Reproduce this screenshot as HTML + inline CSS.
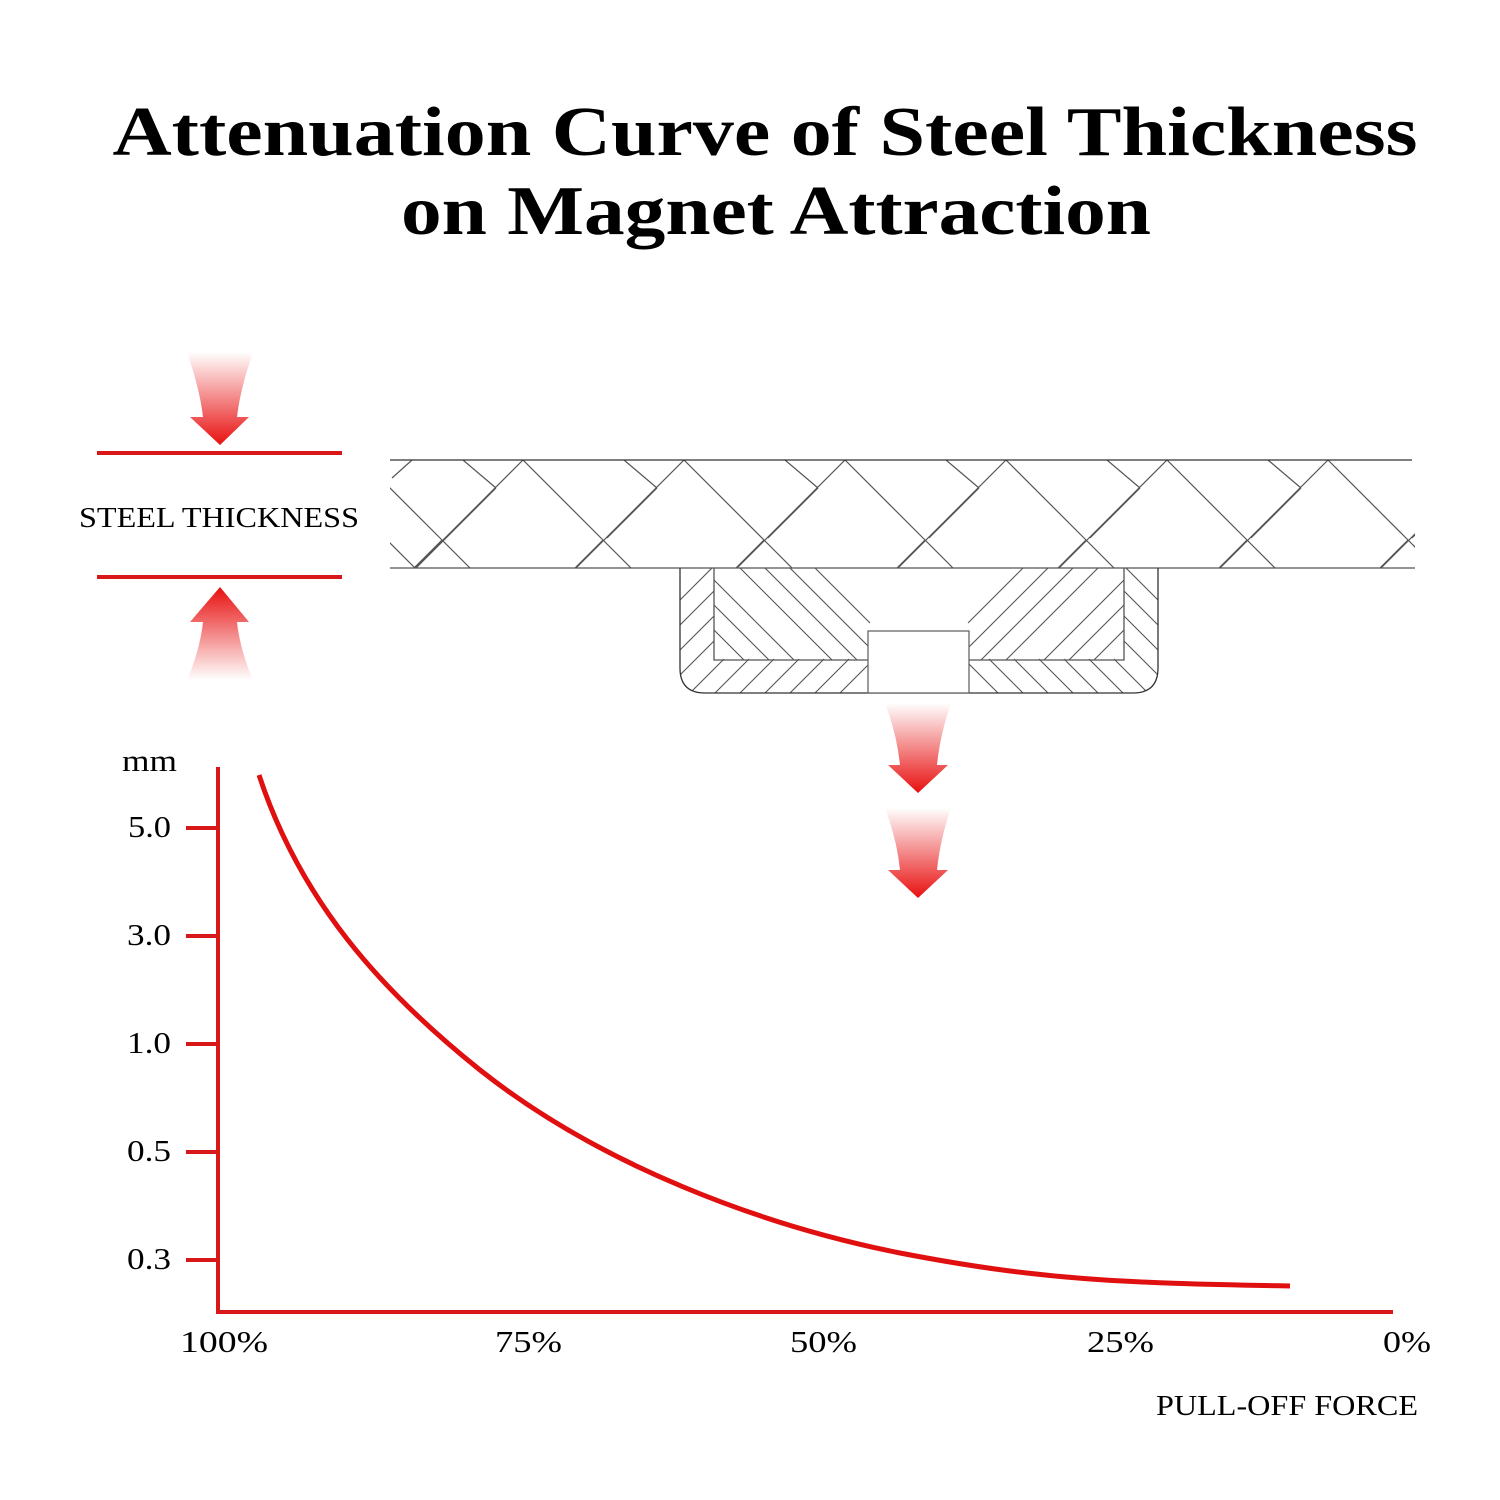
<!DOCTYPE html>
<html><head><meta charset="utf-8"><style>
html,body{margin:0;padding:0;background:#fff}
svg{display:block}
text{font-family:"Liberation Serif",serif}
</style></head><body>
<svg width="1500" height="1500" viewBox="0 0 1500 1500" xmlns="http://www.w3.org/2000/svg">
<defs>
<linearGradient id="gd" x1="0" y1="0" x2="0" y2="1"><stop offset="0" stop-color="#e81010" stop-opacity="0"/><stop offset="1" stop-color="#e81010"/></linearGradient>
<linearGradient id="gu" x1="0" y1="1" x2="0" y2="0"><stop offset="0" stop-color="#e81010" stop-opacity="0"/><stop offset="1" stop-color="#e81010"/></linearGradient>
<clipPath id="plate"><rect x="390" y="460" width="1025" height="108"/></clipPath>
<clipPath id="mag"><path d="M680 568 H1158 V668 Q1158 693 1133 693 H705 Q680 693 680 668 Z"/></clipPath>
</defs>
<text x="765" y="155" font-size="70" font-weight="bold" text-anchor="middle" textLength="1305" lengthAdjust="spacingAndGlyphs">Attenuation Curve of Steel Thickness</text>
<text x="776" y="234" font-size="70" font-weight="bold" text-anchor="middle" textLength="750" lengthAdjust="spacingAndGlyphs">on Magnet Attraction</text>

<path d="M187 352 H253 Q240 390 237 417 H249 L220 445 L190 417 H203 Q200 390 187 352 Z" fill="url(#gd)"/>
<path d="M187 680 H253 Q240 650 237 622 H249 L220 587 L190 622 H203 Q200 650 187 680 Z" fill="url(#gu)"/>
<line x1="97" y1="453" x2="342" y2="453" stroke="#d81818" stroke-width="4"/>
<line x1="97" y1="577" x2="342" y2="577" stroke="#d81818" stroke-width="4"/>
<text x="219" y="527" font-size="29" text-anchor="middle" textLength="280" lengthAdjust="spacingAndGlyphs">STEEL THICKNESS</text>

<g clip-path="url(#plate)" stroke="#555" stroke-width="1.2" fill="none">
<path d="
M362 460 l-108 108 M362 460 l80 80 M442 540 l-28 28 M442 540 l28 28 M335 488 l28 -28
M523 460 l-108 108 M523 460 l80 80 M603 540 l-28 28 M603 540 l28 28 M496 488 l-97 97 M496 488 l-33 -28 M415 568 l-30 -30
M684 460 l-108 108 M684 460 l80 80 M764 540 l-28 28 M764 540 l28 28 M657 488 l-50 50 M657 488 l-33 -28
M845 460 l-108 108 M845 460 l80 80 M925 540 l-28 28 M925 540 l28 28 M818 488 l-50 50 M818 488 l-33 -28
M1006 460 l-108 108 M1006 460 l80 80 M1086 540 l-28 28 M1086 540 l28 28 M979 488 l-50 50 M979 488 l-33 -28
M1167 460 l-108 108 M1167 460 l80 80 M1247 540 l-28 28 M1247 540 l28 28 M1140 488 l-50 50 M1140 488 l-33 -28
M1328 460 l-108 108 M1328 460 l80 80 M1408 540 l-28 28 M1408 540 l28 28 M1301 488 l-50 50 M1301 488 l-33 -28
M1489 460 l-108 108 M1462 488 l-50 50 M1462 488 l-33 -28
M415 568 l-25 -25 M392 478 l20 -18"/>
</g>
<line x1="390" y1="460" x2="1412" y2="460" stroke="#333" stroke-width="1.3"/>
<line x1="390" y1="568" x2="1415" y2="568" stroke="#555" stroke-width="1.3"/>

<g clip-path="url(#mag)" stroke="#555" stroke-width="1.1" fill="none">
<path d="M680 600 l34 -34 M680 625 l34 -34 M680 650 l34 -34 M680 675 l34 -34 M690 693 l34 -34 M715 693 l34 -34 M740 693 l34 -34 M765 693 l34 -34 M790 693 l34 -34 M815 693 l34 -34 M840 693 l30 -30
M714 580 l80 80 M714 605 l55 55 M714 630 l30 30 M740 568 l92 92 M765 568 l92 92 M790 568 l80 80 M815 568 l55 55"/>
<path d="M1158 600 l-34 -34 M1158 625 l-34 -34 M1158 650 l-34 -34 M1158 675 l-34 -34 M1148 693 l-34 -34 M1123 693 l-34 -34 M1098 693 l-34 -34 M1073 693 l-34 -34 M1048 693 l-34 -34 M1023 693 l-34 -34 M998 693 l-30 -30
M1124 580 l-80 80 M1124 605 l-55 55 M1124 630 l-30 30 M1098 568 l-92 92 M1073 568 l-92 92 M1048 568 l-80 80 M1023 568 l-55 55"/>
</g>
<path d="M680 568 V668 Q680 693 705 693 H1133 Q1158 693 1158 668 V568" fill="none" stroke="#333" stroke-width="1.3"/>
<path d="M714 568 V660 H868 M1124 568 V660 H969" fill="none" stroke="#555" stroke-width="1.3"/>
<rect x="868" y="631" width="101" height="62" fill="#fff" stroke="#666" stroke-width="1.3"/>

<path d="M885 703 H951 Q940 735 937 765 H948 L918 793 L888 765 H900 Q897 735 885 703 Z" fill="url(#gd)"/>
<path d="M885 808 H951 Q940 840 937 870 H948 L918 898 L888 870 H900 Q897 840 885 808 Z" fill="url(#gd)"/>

<g stroke="#d81818" stroke-width="4">
<line x1="218" y1="767" x2="218" y2="1314"/>
<line x1="216" y1="1312" x2="1393" y2="1312"/>
<line x1="186" y1="828" x2="218" y2="828"/>
<line x1="186" y1="936" x2="218" y2="936"/>
<line x1="186" y1="1044" x2="218" y2="1044"/>
<line x1="186" y1="1152" x2="218" y2="1152"/>
<line x1="186" y1="1260" x2="218" y2="1260"/>
</g>
<path d="M259 775 C300 900 380 990 480 1070 C600 1165 760 1225 900 1253 C1040 1280 1120 1283 1290 1286" fill="none" stroke="#e01010" stroke-width="5"/>
<g font-size="31">
<text x="122" y="771" textLength="55" lengthAdjust="spacingAndGlyphs">mm</text>
<text x="128" y="837" textLength="43" lengthAdjust="spacingAndGlyphs">5.0</text>
<text x="127" y="945" textLength="44" lengthAdjust="spacingAndGlyphs">3.0</text>
<text x="127" y="1053" textLength="44" lengthAdjust="spacingAndGlyphs">1.0</text>
<text x="127" y="1161" textLength="44" lengthAdjust="spacingAndGlyphs">0.5</text>
<text x="127" y="1269" textLength="44" lengthAdjust="spacingAndGlyphs">0.3</text>
</g>
<g font-size="31">
<text x="180" y="1352" textLength="88" lengthAdjust="spacingAndGlyphs">100%</text>
<text x="495" y="1352" textLength="67" lengthAdjust="spacingAndGlyphs">75%</text>
<text x="790" y="1352" textLength="67" lengthAdjust="spacingAndGlyphs">50%</text>
<text x="1087" y="1352" textLength="67" lengthAdjust="spacingAndGlyphs">25%</text>
<text x="1383" y="1352" textLength="48" lengthAdjust="spacingAndGlyphs">0%</text>
</g>
<text x="1418" y="1415" font-size="29" text-anchor="end" textLength="262" lengthAdjust="spacingAndGlyphs">PULL-OFF FORCE</text>
</svg>
</body></html>
